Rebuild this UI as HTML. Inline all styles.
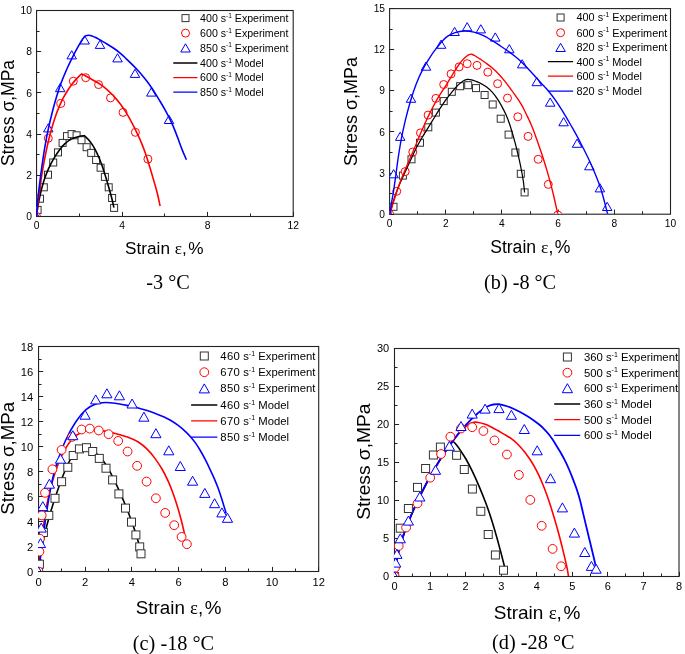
<!DOCTYPE html>
<html><head><meta charset="utf-8"><style>
html,body{margin:0;padding:0;background:#fff;}
svg{display:block;will-change:transform;}
text{font-family:"Liberation Sans", sans-serif;fill:#000;}
</style></head><body>
<svg width="685" height="654" viewBox="0 0 685 654">
<defs><clipPath id="clipa"><rect x="36.55" y="10.5" width="256.65" height="206"/></clipPath><clipPath id="dclipa"><rect x="36" y="11.05" width="256.65" height="204.9"/></clipPath><clipPath id="clipb"><rect x="389.6" y="8.6" width="280.9" height="205.6"/></clipPath><clipPath id="dclipb"><rect x="389.05" y="9.15" width="280.9" height="204.5"/></clipPath><clipPath id="clipc"><rect x="38.55" y="346.5" width="280.15" height="225"/></clipPath><clipPath id="dclipc"><rect x="38" y="347.05" width="280.15" height="223.9"/></clipPath><clipPath id="clipd"><rect x="394.5" y="348.5" width="284.5" height="228"/></clipPath><clipPath id="dclipd"><rect x="393.95" y="349.05" width="284.5" height="226.9"/></clipPath></defs>
<rect width="685" height="654" fill="#fff"/>
<g><line x1="36.5" y1="216.5" x2="36.5" y2="211.9" stroke="#222" stroke-width="1"/><text x="36.55" y="229.4" font-size="10.3" text-anchor="middle">0</text><line x1="122.5" y1="216.5" x2="122.5" y2="211.9" stroke="#222" stroke-width="1"/><text x="122.1" y="229.4" font-size="10.3" text-anchor="middle">4</text><line x1="207.5" y1="216.5" x2="207.5" y2="211.9" stroke="#222" stroke-width="1"/><text x="207.65" y="229.4" font-size="10.3" text-anchor="middle">8</text><line x1="293.5" y1="216.5" x2="293.5" y2="211.9" stroke="#222" stroke-width="1"/><text x="293.2" y="229.4" font-size="10.3" text-anchor="middle">12</text><line x1="79.5" y1="216.5" x2="79.5" y2="213.5" stroke="#222" stroke-width="1"/><line x1="164.5" y1="216.5" x2="164.5" y2="213.5" stroke="#222" stroke-width="1"/><line x1="250.5" y1="216.5" x2="250.5" y2="213.5" stroke="#222" stroke-width="1"/><line x1="36.55" y1="216.5" x2="41.15" y2="216.5" stroke="#222" stroke-width="1"/><text x="31.95" y="220.19" font-size="10.3" text-anchor="end">0</text><line x1="36.55" y1="175.5" x2="41.15" y2="175.5" stroke="#222" stroke-width="1"/><text x="31.95" y="178.99" font-size="10.3" text-anchor="end">2</text><line x1="36.55" y1="134.5" x2="41.15" y2="134.5" stroke="#222" stroke-width="1"/><text x="31.95" y="137.79" font-size="10.3" text-anchor="end">4</text><line x1="36.55" y1="92.5" x2="41.15" y2="92.5" stroke="#222" stroke-width="1"/><text x="31.95" y="96.59" font-size="10.3" text-anchor="end">6</text><line x1="36.55" y1="51.5" x2="41.15" y2="51.5" stroke="#222" stroke-width="1"/><text x="31.95" y="55.39" font-size="10.3" text-anchor="end">8</text><line x1="36.55" y1="10.5" x2="41.15" y2="10.5" stroke="#222" stroke-width="1"/><text x="31.95" y="14.19" font-size="10.3" text-anchor="end">10</text><line x1="36.55" y1="195.5" x2="39.55" y2="195.5" stroke="#222" stroke-width="1"/><line x1="36.55" y1="154.5" x2="39.55" y2="154.5" stroke="#222" stroke-width="1"/><line x1="36.55" y1="113.5" x2="39.55" y2="113.5" stroke="#222" stroke-width="1"/><line x1="36.55" y1="72.5" x2="39.55" y2="72.5" stroke="#222" stroke-width="1"/><line x1="36.55" y1="31.5" x2="39.55" y2="31.5" stroke="#222" stroke-width="1"/><g clip-path="url(#clipa)"><rect x="182" y="14.6" width="7" height="7" fill="#fff" stroke="#333" stroke-width="1"/><text x="200.1" y="21.89" font-size="10.6"><tspan letter-spacing="0">400</tspan> s<tspan font-size="6.57" dy="-4.24">-1</tspan><tspan dy="4.24"> Experiment</tspan></text><circle cx="185.5" cy="33.1" r="4" fill="#fff" stroke="#ff0000" stroke-width="1"/><text x="200.1" y="36.89" font-size="10.6"><tspan letter-spacing="0">600</tspan> s<tspan font-size="6.57" dy="-4.24">-1</tspan><tspan dy="4.24"> Experiment</tspan></text><path d="M185.5,43.8 L190.25,52 L180.75,52 Z" fill="#fff" stroke="#0000ff" stroke-width="1" stroke-linejoin="miter"/><text x="200.1" y="51.69" font-size="10.6"><tspan letter-spacing="0">850</tspan> s<tspan font-size="6.57" dy="-4.24">-1</tspan><tspan dy="4.24"> Experiment</tspan></text><line x1="173.3" y1="63" x2="197.4" y2="63" stroke="#000" stroke-width="1.3"/><text x="200.1" y="66.79" font-size="10.6"><tspan letter-spacing="0">400</tspan> s<tspan font-size="6.57" dy="-4.24">-1</tspan><tspan dy="4.24"> Model</tspan></text><line x1="173.3" y1="77.6" x2="197.4" y2="77.6" stroke="#ff0000" stroke-width="1.3"/><text x="200.1" y="81.39" font-size="10.6"><tspan letter-spacing="0">600</tspan> s<tspan font-size="6.57" dy="-4.24">-1</tspan><tspan dy="4.24"> Model</tspan></text><line x1="173.3" y1="92.2" x2="197.4" y2="92.2" stroke="#0000ff" stroke-width="1.3"/><text x="200.1" y="95.99" font-size="10.6"><tspan letter-spacing="0">850</tspan> s<tspan font-size="6.57" dy="-4.24">-1</tspan><tspan dy="4.24"> Model</tspan></text></g><rect x="36.55" y="10.5" width="256.65" height="206" fill="none" stroke="#222" stroke-width="1.1"/><g clip-path="url(#dclipa)"><rect x="34.1" y="206.4" width="7" height="7" fill="#fff" stroke="#333" stroke-width="1"/><rect x="36.5" y="195.2" width="7" height="7" fill="#fff" stroke="#333" stroke-width="1"/><rect x="40.3" y="183.8" width="7" height="7" fill="#fff" stroke="#333" stroke-width="1"/><rect x="44.5" y="171.2" width="7" height="7" fill="#fff" stroke="#333" stroke-width="1"/><rect x="49.7" y="159" width="7" height="7" fill="#fff" stroke="#333" stroke-width="1"/><rect x="54.5" y="148.9" width="7" height="7" fill="#fff" stroke="#333" stroke-width="1"/><rect x="59.1" y="139.4" width="7" height="7" fill="#fff" stroke="#333" stroke-width="1"/><rect x="63.5" y="132.6" width="7" height="7" fill="#fff" stroke="#333" stroke-width="1"/><rect x="68.1" y="130.6" width="7" height="7" fill="#fff" stroke="#333" stroke-width="1"/><rect x="73.1" y="131.8" width="7" height="7" fill="#fff" stroke="#333" stroke-width="1"/><rect x="78" y="136.7" width="7" height="7" fill="#fff" stroke="#333" stroke-width="1"/><rect x="83.1" y="143.7" width="7" height="7" fill="#fff" stroke="#333" stroke-width="1"/><rect x="87.7" y="149.4" width="7" height="7" fill="#fff" stroke="#333" stroke-width="1"/><rect x="92.6" y="156.5" width="7" height="7" fill="#fff" stroke="#333" stroke-width="1"/><rect x="97.1" y="164.2" width="7" height="7" fill="#fff" stroke="#333" stroke-width="1"/><rect x="101.4" y="173.4" width="7" height="7" fill="#fff" stroke="#333" stroke-width="1"/><rect x="105.2" y="183.8" width="7" height="7" fill="#fff" stroke="#333" stroke-width="1"/><rect x="108.6" y="194.5" width="7" height="7" fill="#fff" stroke="#333" stroke-width="1"/><rect x="110.6" y="204.4" width="7" height="7" fill="#fff" stroke="#333" stroke-width="1"/><circle cx="36.5" cy="216.5" r="4" fill="#fff" stroke="#ff0000" stroke-width="1"/><circle cx="48.3" cy="138.3" r="4" fill="#fff" stroke="#ff0000" stroke-width="1"/><circle cx="60.8" cy="103.5" r="4" fill="#fff" stroke="#ff0000" stroke-width="1"/><circle cx="73.3" cy="81.2" r="4" fill="#fff" stroke="#ff0000" stroke-width="1"/><circle cx="85.7" cy="77.7" r="4" fill="#fff" stroke="#ff0000" stroke-width="1"/><circle cx="98.6" cy="84.6" r="4" fill="#fff" stroke="#ff0000" stroke-width="1"/><circle cx="110.5" cy="97.9" r="4" fill="#fff" stroke="#ff0000" stroke-width="1"/><circle cx="123" cy="112.4" r="4" fill="#fff" stroke="#ff0000" stroke-width="1"/><circle cx="135.4" cy="132.3" r="4" fill="#fff" stroke="#ff0000" stroke-width="1"/><circle cx="147.9" cy="159.1" r="4" fill="#fff" stroke="#ff0000" stroke-width="1"/><path d="M36.5,212.4 L41.25,220.6 L31.75,220.6 Z" fill="#fff" stroke="#0000ff" stroke-width="1" stroke-linejoin="miter"/><path d="M48.3,123.7 L53.05,131.9 L43.55,131.9 Z" fill="#fff" stroke="#0000ff" stroke-width="1" stroke-linejoin="miter"/><path d="M60.2,83.5 L64.95,91.7 L55.45,91.7 Z" fill="#fff" stroke="#0000ff" stroke-width="1" stroke-linejoin="miter"/><path d="M71.7,50.7 L76.45,58.9 L66.95,58.9 Z" fill="#fff" stroke="#0000ff" stroke-width="1" stroke-linejoin="miter"/><path d="M84.7,35.8 L89.45,44 L79.95,44 Z" fill="#fff" stroke="#0000ff" stroke-width="1" stroke-linejoin="miter"/><path d="M100,40.2 L104.75,48.4 L95.25,48.4 Z" fill="#fff" stroke="#0000ff" stroke-width="1" stroke-linejoin="miter"/><path d="M117.5,53.7 L122.25,61.9 L112.75,61.9 Z" fill="#fff" stroke="#0000ff" stroke-width="1" stroke-linejoin="miter"/><path d="M135,69.2 L139.75,77.4 L130.25,77.4 Z" fill="#fff" stroke="#0000ff" stroke-width="1" stroke-linejoin="miter"/><path d="M151.3,87.9 L156.05,96.1 L146.55,96.1 Z" fill="#fff" stroke="#0000ff" stroke-width="1" stroke-linejoin="miter"/><path d="M169,115.3 L173.75,123.5 L164.25,123.5 Z" fill="#fff" stroke="#0000ff" stroke-width="1" stroke-linejoin="miter"/><path d="M36.5,216.5 C36.73,214.82 37.31,209.94 37.9,206.4 C38.49,202.86 39.23,198.97 40.06,195.28 C40.88,191.58 41.79,187.81 42.85,184.22 C43.91,180.64 45.08,177.15 46.42,173.77 C47.75,170.4 49.31,167.04 50.86,163.98 C52.42,160.93 54.16,157.99 55.75,155.44 C57.34,152.89 58.92,150.63 60.41,148.7 C61.91,146.77 63.28,145.26 64.73,143.87 C66.19,142.49 67.6,141.37 69.13,140.39 C70.66,139.41 72.26,138.64 73.92,137.99 C75.58,137.34 77.34,136.88 79.1,136.5 C80.86,136.12 83.6,135.83 84.5,135.7 C85.25,136.47 87.6,138.63 89,140.3 C90.4,141.97 91.69,143.8 92.89,145.69 C94.1,147.58 95.18,149.57 96.22,151.63 C97.26,153.69 98.19,155.81 99.12,158.05 C100.06,160.28 100.96,162.59 101.84,165.04 C102.72,167.48 103.56,170.06 104.41,172.72 C105.26,175.38 106.09,178.15 106.93,180.98 C107.78,183.81 108.63,186.76 109.46,189.71 C110.29,192.66 111.16,195.7 111.9,198.7 C112.64,201.7 113.57,206.2 113.9,207.7" fill="none" stroke="#000" stroke-width="1.6" stroke-linejoin="miter" stroke-linecap="butt"/><path d="M36.5,216.5 C36.73,214.45 37.38,208.63 37.9,204.2 C38.42,199.77 39,194.78 39.65,189.92 C40.3,185.05 41,180.05 41.8,175.02 C42.61,169.98 43.5,164.83 44.48,159.69 C45.46,154.55 46.51,149.3 47.68,144.2 C48.84,139.1 50.19,133.76 51.5,129.09 C52.8,124.41 54.19,120.04 55.52,116.17 C56.86,112.3 58.21,108.9 59.5,105.87 C60.79,102.83 61.99,100.38 63.27,97.94 C64.55,95.49 65.82,93.35 67.18,91.2 C68.54,89.04 69.96,86.98 71.43,85.01 C72.89,83.05 74.54,81.02 75.96,79.4 C77.37,77.78 78.93,76.22 79.9,75.3 C80.87,74.38 81.48,74.13 81.8,73.9 C83.07,74.58 87.08,76.74 89.4,78 C91.72,79.26 93.8,80.37 95.7,81.47 C97.59,82.57 99.1,83.45 100.75,84.6 C102.4,85.74 103.94,86.94 105.59,88.35 C107.25,89.75 109,91.38 110.69,93.05 C112.38,94.72 114.11,96.53 115.72,98.36 C117.32,100.19 118.82,102.06 120.3,104.03 C121.77,106 123.21,108.06 124.58,110.17 C125.96,112.28 127.26,114.48 128.52,116.68 C129.79,118.88 131.01,121.14 132.18,123.36 C133.35,125.58 134.47,127.78 135.56,129.98 C136.65,132.19 137.67,134.24 138.74,136.59 C139.8,138.95 140.86,141.37 141.95,144.11 C143.05,146.86 144.21,149.92 145.31,153.05 C146.41,156.18 147.49,159.56 148.54,162.91 C149.59,166.26 150.59,169.65 151.62,173.15 C152.65,176.64 153.7,180.22 154.71,183.86 C155.72,187.5 156.8,191.31 157.7,195 C158.6,198.69 159.7,204.17 160.1,206" fill="none" stroke="#ff0000" stroke-width="1.6" stroke-linejoin="miter" stroke-linecap="butt"/><path d="M36.5,216.5 C36.63,214.45 36.91,208.63 37.3,204.2 C37.69,199.77 38.28,194.79 38.86,189.92 C39.43,185.05 40.07,180.01 40.73,174.98 C41.4,169.96 42.08,164.84 42.84,159.76 C43.59,154.69 44.36,149.7 45.27,144.55 C46.18,139.4 47.22,133.99 48.32,128.85 C49.42,123.71 50.69,118.45 51.89,113.7 C53.08,108.94 54.39,104.18 55.5,100.31 C56.6,96.44 57.57,93.39 58.51,90.48 C59.46,87.56 60.25,85.31 61.18,82.83 C62.11,80.34 63.05,78.07 64.09,75.56 C65.14,73.04 66.32,70.25 67.44,67.74 C68.56,65.24 69.72,62.78 70.81,60.53 C71.9,58.29 72.93,56.25 73.96,54.27 C74.98,52.29 75.97,50.48 76.98,48.65 C77.98,46.82 78.98,45.01 80,43.3 C81.02,41.59 82.58,39.22 83.1,38.4 C83.5,37.98 84.57,36.42 85.5,35.9 C86.43,35.38 87.61,35.27 88.7,35.27 C89.78,35.27 90.87,35.51 92.03,35.89 C93.19,36.26 94.24,36.79 95.65,37.52 C97.07,38.25 98.58,39.14 100.52,40.25 C102.47,41.37 105,42.78 107.33,44.2 C109.66,45.62 112.26,47.19 114.49,48.76 C116.72,50.32 118.76,51.94 120.69,53.57 C122.62,55.2 124.26,56.85 126.07,58.56 C127.87,60.27 129.69,62.02 131.53,63.84 C133.36,65.67 135.26,67.57 137.06,69.51 C138.85,71.45 140.64,73.48 142.32,75.49 C144.01,77.5 145.58,79.5 147.15,81.58 C148.72,83.66 150.24,85.73 151.76,87.98 C153.29,90.22 154.81,92.64 156.32,95.05 C157.82,97.47 159.33,100.02 160.79,102.49 C162.25,104.97 163.65,107.36 165.07,109.91 C166.5,112.46 167.9,114.92 169.31,117.8 C170.73,120.67 172.14,123.76 173.56,127.14 C174.98,130.52 176.41,134.35 177.83,138.09 C179.25,141.84 180.67,145.98 182.1,149.6 C183.53,153.22 185.68,158.1 186.4,159.8" fill="none" stroke="#0000ff" stroke-width="1.6" stroke-linejoin="miter" stroke-linecap="butt"/></g><text transform="translate(13.9,113) rotate(-90)" font-size="17.5" text-anchor="middle">Stress &#963;,MPa</text><text x="164.3" y="253.9" font-size="17.2" text-anchor="middle">Strain <tspan style="font-family:'Liberation Serif', serif">&#949;</tspan>,<tspan dx="1.5">%</tspan></text><text x="168" y="289.4" font-size="20.2" text-anchor="middle" style="font-family:'Liberation Serif', serif">-3 &#176;C</text></g>
<g><line x1="389.5" y1="214.2" x2="389.5" y2="209.6" stroke="#222" stroke-width="1"/><text x="389.6" y="227.2" font-size="10.2" text-anchor="middle">0</text><line x1="445.5" y1="214.2" x2="445.5" y2="209.6" stroke="#222" stroke-width="1"/><text x="445.78" y="227.2" font-size="10.2" text-anchor="middle">2</text><line x1="501.5" y1="214.2" x2="501.5" y2="209.6" stroke="#222" stroke-width="1"/><text x="501.96" y="227.2" font-size="10.2" text-anchor="middle">4</text><line x1="558.5" y1="214.2" x2="558.5" y2="209.6" stroke="#222" stroke-width="1"/><text x="558.14" y="227.2" font-size="10.2" text-anchor="middle">6</text><line x1="614.5" y1="214.2" x2="614.5" y2="209.6" stroke="#222" stroke-width="1"/><text x="614.32" y="227.2" font-size="10.2" text-anchor="middle">8</text><line x1="670.5" y1="214.2" x2="670.5" y2="209.6" stroke="#222" stroke-width="1"/><text x="670.5" y="227.2" font-size="10.2" text-anchor="middle">10</text><line x1="417.5" y1="214.2" x2="417.5" y2="211.2" stroke="#222" stroke-width="1"/><line x1="473.5" y1="214.2" x2="473.5" y2="211.2" stroke="#222" stroke-width="1"/><line x1="530.5" y1="214.2" x2="530.5" y2="211.2" stroke="#222" stroke-width="1"/><line x1="586.5" y1="214.2" x2="586.5" y2="211.2" stroke="#222" stroke-width="1"/><line x1="642.5" y1="214.2" x2="642.5" y2="211.2" stroke="#222" stroke-width="1"/><line x1="389.6" y1="214.5" x2="394.2" y2="214.5" stroke="#222" stroke-width="1"/><text x="385" y="217.85" font-size="10.2" text-anchor="end">0</text><line x1="389.6" y1="173.5" x2="394.2" y2="173.5" stroke="#222" stroke-width="1"/><text x="385" y="176.73" font-size="10.2" text-anchor="end">3</text><line x1="389.6" y1="131.5" x2="394.2" y2="131.5" stroke="#222" stroke-width="1"/><text x="385" y="135.61" font-size="10.2" text-anchor="end">6</text><line x1="389.6" y1="90.5" x2="394.2" y2="90.5" stroke="#222" stroke-width="1"/><text x="385" y="94.49" font-size="10.2" text-anchor="end">9</text><line x1="389.6" y1="49.5" x2="394.2" y2="49.5" stroke="#222" stroke-width="1"/><text x="385" y="53.37" font-size="10.2" text-anchor="end">12</text><line x1="389.6" y1="8.5" x2="394.2" y2="8.5" stroke="#222" stroke-width="1"/><text x="385" y="12.25" font-size="10.2" text-anchor="end">15</text><line x1="389.6" y1="193.5" x2="392.6" y2="193.5" stroke="#222" stroke-width="1"/><line x1="389.6" y1="152.5" x2="392.6" y2="152.5" stroke="#222" stroke-width="1"/><line x1="389.6" y1="111.5" x2="392.6" y2="111.5" stroke="#222" stroke-width="1"/><line x1="389.6" y1="70.5" x2="392.6" y2="70.5" stroke="#222" stroke-width="1"/><line x1="389.6" y1="29.5" x2="392.6" y2="29.5" stroke="#222" stroke-width="1"/><g clip-path="url(#clipb)"><rect x="557.1" y="14" width="7" height="7" fill="#fff" stroke="#333" stroke-width="1"/><text x="576.5" y="21.4" font-size="10.9"><tspan letter-spacing="0">400</tspan> s<tspan font-size="6.76" dy="-4.36">-1</tspan><tspan dy="4.36"> Experiment</tspan></text><circle cx="560.6" cy="32.7" r="4" fill="#fff" stroke="#ff0000" stroke-width="1"/><text x="576.5" y="36.6" font-size="10.9"><tspan letter-spacing="0">600</tspan> s<tspan font-size="6.76" dy="-4.36">-1</tspan><tspan dy="4.36"> Experiment</tspan></text><path d="M560.6,43.3 L565.35,51.5 L555.85,51.5 Z" fill="#fff" stroke="#0000ff" stroke-width="1" stroke-linejoin="miter"/><text x="576.5" y="51.3" font-size="10.9"><tspan letter-spacing="0">820</tspan> s<tspan font-size="6.76" dy="-4.36">-1</tspan><tspan dy="4.36"> Experiment</tspan></text><line x1="547.9" y1="61.7" x2="573.1" y2="61.7" stroke="#000" stroke-width="1.3"/><text x="576.5" y="65.6" font-size="10.9"><tspan letter-spacing="0">400</tspan> s<tspan font-size="6.76" dy="-4.36">-1</tspan><tspan dy="4.36"> Model</tspan></text><line x1="547.9" y1="76.2" x2="573.1" y2="76.2" stroke="#ff0000" stroke-width="1.3"/><text x="576.5" y="80.1" font-size="10.9"><tspan letter-spacing="0">600</tspan> s<tspan font-size="6.76" dy="-4.36">-1</tspan><tspan dy="4.36"> Model</tspan></text><line x1="547.9" y1="91.1" x2="573.1" y2="91.1" stroke="#0000ff" stroke-width="1.3"/><text x="576.5" y="95" font-size="10.9"><tspan letter-spacing="0">820</tspan> s<tspan font-size="6.76" dy="-4.36">-1</tspan><tspan dy="4.36"> Model</tspan></text></g><rect x="389.6" y="8.6" width="280.9" height="205.6" fill="none" stroke="#222" stroke-width="1.1"/><g clip-path="url(#dclipb)"><rect x="390" y="203.3" width="7" height="7" fill="#fff" stroke="#333" stroke-width="1"/><rect x="399.4" y="172.1" width="7" height="7" fill="#fff" stroke="#333" stroke-width="1"/><rect x="408" y="155.8" width="7" height="7" fill="#fff" stroke="#333" stroke-width="1"/><rect x="416.5" y="139.2" width="7" height="7" fill="#fff" stroke="#333" stroke-width="1"/><rect x="424.8" y="123.8" width="7" height="7" fill="#fff" stroke="#333" stroke-width="1"/><rect x="432.4" y="109.1" width="7" height="7" fill="#fff" stroke="#333" stroke-width="1"/><rect x="440.2" y="97.6" width="7" height="7" fill="#fff" stroke="#333" stroke-width="1"/><rect x="448.3" y="88.3" width="7" height="7" fill="#fff" stroke="#333" stroke-width="1"/><rect x="456.6" y="82.7" width="7" height="7" fill="#fff" stroke="#333" stroke-width="1"/><rect x="464.7" y="81.7" width="7" height="7" fill="#fff" stroke="#333" stroke-width="1"/><rect x="472.5" y="84.6" width="7" height="7" fill="#fff" stroke="#333" stroke-width="1"/><rect x="481.1" y="91.5" width="7" height="7" fill="#fff" stroke="#333" stroke-width="1"/><rect x="489.2" y="101" width="7" height="7" fill="#fff" stroke="#333" stroke-width="1"/><rect x="497.2" y="115.2" width="7" height="7" fill="#fff" stroke="#333" stroke-width="1"/><rect x="505.1" y="131.1" width="7" height="7" fill="#fff" stroke="#333" stroke-width="1"/><rect x="511.9" y="149" width="7" height="7" fill="#fff" stroke="#333" stroke-width="1"/><rect x="517.3" y="170.3" width="7" height="7" fill="#fff" stroke="#333" stroke-width="1"/><rect x="521.1" y="188.9" width="7" height="7" fill="#fff" stroke="#333" stroke-width="1"/><circle cx="389.7" cy="214.3" r="4" fill="#fff" stroke="#ff0000" stroke-width="1"/><circle cx="396.7" cy="191.3" r="4" fill="#fff" stroke="#ff0000" stroke-width="1"/><circle cx="405.2" cy="171.6" r="4" fill="#fff" stroke="#ff0000" stroke-width="1"/><circle cx="412.8" cy="152" r="4" fill="#fff" stroke="#ff0000" stroke-width="1"/><circle cx="420.5" cy="132.9" r="4" fill="#fff" stroke="#ff0000" stroke-width="1"/><circle cx="428.1" cy="115.1" r="4" fill="#fff" stroke="#ff0000" stroke-width="1"/><circle cx="435.9" cy="98.4" r="4" fill="#fff" stroke="#ff0000" stroke-width="1"/><circle cx="443.7" cy="84.5" r="4" fill="#fff" stroke="#ff0000" stroke-width="1"/><circle cx="451.1" cy="73.9" r="4" fill="#fff" stroke="#ff0000" stroke-width="1"/><circle cx="459.1" cy="66.9" r="4" fill="#fff" stroke="#ff0000" stroke-width="1"/><circle cx="467.2" cy="63.7" r="4" fill="#fff" stroke="#ff0000" stroke-width="1"/><circle cx="477" cy="65.4" r="4" fill="#fff" stroke="#ff0000" stroke-width="1"/><circle cx="487.8" cy="72.2" r="4" fill="#fff" stroke="#ff0000" stroke-width="1"/><circle cx="497.6" cy="83.7" r="4" fill="#fff" stroke="#ff0000" stroke-width="1"/><circle cx="507.5" cy="98.1" r="4" fill="#fff" stroke="#ff0000" stroke-width="1"/><circle cx="517.8" cy="116.8" r="4" fill="#fff" stroke="#ff0000" stroke-width="1"/><circle cx="528.1" cy="136.4" r="4" fill="#fff" stroke="#ff0000" stroke-width="1"/><circle cx="538.2" cy="159.3" r="4" fill="#fff" stroke="#ff0000" stroke-width="1"/><circle cx="548.3" cy="184.4" r="4" fill="#fff" stroke="#ff0000" stroke-width="1"/><circle cx="557.8" cy="215" r="4" fill="#fff" stroke="#ff0000" stroke-width="1"/><path d="M389.7,210.2 L394.45,218.4 L384.95,218.4 Z" fill="#fff" stroke="#0000ff" stroke-width="1" stroke-linejoin="miter"/><path d="M393.6,169.6 L398.35,177.8 L388.85,177.8 Z" fill="#fff" stroke="#0000ff" stroke-width="1" stroke-linejoin="miter"/><path d="M400.2,132.2 L404.95,140.4 L395.45,140.4 Z" fill="#fff" stroke="#0000ff" stroke-width="1" stroke-linejoin="miter"/><path d="M411,94.1 L415.75,102.3 L406.25,102.3 Z" fill="#fff" stroke="#0000ff" stroke-width="1" stroke-linejoin="miter"/><path d="M426,62 L430.75,70.2 L421.25,70.2 Z" fill="#fff" stroke="#0000ff" stroke-width="1" stroke-linejoin="miter"/><path d="M441.1,40.1 L445.85,48.3 L436.35,48.3 Z" fill="#fff" stroke="#0000ff" stroke-width="1" stroke-linejoin="miter"/><path d="M454.6,27.3 L459.35,35.5 L449.85,35.5 Z" fill="#fff" stroke="#0000ff" stroke-width="1" stroke-linejoin="miter"/><path d="M467.2,22.6 L471.95,30.8 L462.45,30.8 Z" fill="#fff" stroke="#0000ff" stroke-width="1" stroke-linejoin="miter"/><path d="M480.8,24.7 L485.55,32.9 L476.05,32.9 Z" fill="#fff" stroke="#0000ff" stroke-width="1" stroke-linejoin="miter"/><path d="M495.3,32.9 L500.05,41.1 L490.55,41.1 Z" fill="#fff" stroke="#0000ff" stroke-width="1" stroke-linejoin="miter"/><path d="M509.3,44.6 L514.05,52.8 L504.55,52.8 Z" fill="#fff" stroke="#0000ff" stroke-width="1" stroke-linejoin="miter"/><path d="M522.2,59.7 L526.95,67.9 L517.45,67.9 Z" fill="#fff" stroke="#0000ff" stroke-width="1" stroke-linejoin="miter"/><path d="M536.8,77.5 L541.55,85.7 L532.05,85.7 Z" fill="#fff" stroke="#0000ff" stroke-width="1" stroke-linejoin="miter"/><path d="M550.2,98 L554.95,106.2 L545.45,106.2 Z" fill="#fff" stroke="#0000ff" stroke-width="1" stroke-linejoin="miter"/><path d="M563.6,117.6 L568.35,125.8 L558.85,125.8 Z" fill="#fff" stroke="#0000ff" stroke-width="1" stroke-linejoin="miter"/><path d="M577.1,139.1 L581.85,147.3 L572.35,147.3 Z" fill="#fff" stroke="#0000ff" stroke-width="1" stroke-linejoin="miter"/><path d="M589.3,161.6 L594.05,169.8 L584.55,169.8 Z" fill="#fff" stroke="#0000ff" stroke-width="1" stroke-linejoin="miter"/><path d="M599.9,183.7 L604.65,191.9 L595.15,191.9 Z" fill="#fff" stroke="#0000ff" stroke-width="1" stroke-linejoin="miter"/><path d="M607.2,202.3 L611.95,210.5 L602.45,210.5 Z" fill="#fff" stroke="#0000ff" stroke-width="1" stroke-linejoin="miter"/><path d="M389.8,214.3 C390.25,212.58 391.48,207.47 392.5,204 C393.52,200.53 394.57,197.13 395.91,193.48 C397.25,189.83 398.83,186.04 400.52,182.11 C402.2,178.17 404.17,173.95 406.03,169.88 C407.89,165.8 409.9,161.46 411.69,157.66 C413.49,153.86 415.18,150.23 416.79,147.07 C418.41,143.92 419.81,141.43 421.38,138.72 C422.95,136.01 424.44,133.74 426.23,130.82 C428.03,127.9 430.06,124.6 432.15,121.2 C434.24,117.81 436.53,113.95 438.78,110.45 C441.02,106.95 443.38,103.35 445.62,100.2 C447.86,97.05 450.12,94.09 452.23,91.54 C454.34,88.99 456.44,86.68 458.26,84.92 C460.09,83.15 461.65,81.84 463.18,80.93 C464.72,80.02 466.11,79.65 467.5,79.47 C468.89,79.29 470.15,79.54 471.53,79.84 C472.9,80.13 474.25,80.64 475.75,81.22 C477.26,81.8 478.78,82.37 480.54,83.3 C482.3,84.23 484.37,85.32 486.32,86.8 C488.27,88.28 490.36,90.14 492.23,92.19 C494.1,94.25 495.9,96.75 497.52,99.15 C499.14,101.55 500.56,104.04 501.94,106.58 C503.32,109.11 504.6,111.66 505.8,114.37 C507,117.07 508.09,119.85 509.14,122.81 C510.19,125.77 511.17,129.02 512.1,132.12 C513.03,135.21 513.89,138.35 514.71,141.37 C515.53,144.39 516.28,147.25 517.03,150.26 C517.77,153.27 518.46,156.18 519.18,159.43 C519.9,162.68 520.65,166.15 521.34,169.75 C522.03,173.34 522.76,177.21 523.3,181 C523.84,184.79 524.38,190.58 524.6,192.5" fill="none" stroke="#000" stroke-width="1.25" stroke-linejoin="miter" stroke-linecap="butt"/><path d="M389.8,214.3 C390.78,211.08 394,200.3 395.7,195 C397.4,189.7 398.43,186.64 399.97,182.53 C401.51,178.42 403.18,174.55 404.94,170.35 C406.71,166.14 408.77,161.44 410.55,157.29 C412.33,153.13 414.06,149.09 415.61,145.41 C417.16,141.74 418.44,138.61 419.86,135.25 C421.28,131.9 422.59,128.76 424.15,125.28 C425.7,121.79 427.42,117.97 429.19,114.35 C430.96,110.74 432.98,106.85 434.77,103.58 C436.57,100.31 438.41,97.25 439.95,94.73 C441.5,92.21 442.77,90.43 444.04,88.45 C445.31,86.47 446.4,84.76 447.59,82.84 C448.77,80.93 449.93,78.95 451.14,76.95 C452.35,74.95 453.61,72.78 454.83,70.83 C456.06,68.88 457.26,66.99 458.49,65.25 C459.72,63.51 460.98,61.83 462.22,60.41 C463.46,59 464.78,57.73 465.93,56.76 C467.09,55.78 468.15,55.01 469.13,54.59 C470.11,54.16 470.81,54.01 471.79,54.2 C472.77,54.39 473.64,54.94 474.99,55.73 C476.34,56.52 478.04,57.68 479.92,58.93 C481.79,60.19 484.09,61.69 486.25,63.27 C488.41,64.86 490.74,66.57 492.88,68.43 C495.02,70.29 497.1,72.33 499.08,74.46 C501.06,76.58 502.92,78.88 504.75,81.16 C506.57,83.44 508.35,85.89 510.02,88.13 C511.69,90.38 513.3,92.58 514.76,94.64 C516.22,96.69 517.58,98.62 518.79,100.46 C519.99,102.31 521.01,103.99 521.99,105.71 C522.96,107.43 523.81,109.11 524.65,110.78 C525.5,112.46 526.29,114.15 527.06,115.76 C527.83,117.37 528.55,118.87 529.28,120.45 C530.01,122.03 530.66,123.43 531.42,125.25 C532.18,127.06 532.91,128.91 533.82,131.32 C534.72,133.73 535.77,136.66 536.86,139.72 C537.94,142.78 539.16,146.26 540.32,149.68 C541.47,153.1 542.68,156.69 543.8,160.22 C544.93,163.76 545.99,167.24 547.06,170.89 C548.13,174.54 549.13,178.02 550.22,182.12 C551.31,186.22 552.34,190.14 553.6,195.5 C554.86,200.86 557.1,211.17 557.8,214.3" fill="none" stroke="#ff0000" stroke-width="1.4" stroke-linejoin="miter" stroke-linecap="butt"/><path d="M389.8,214.3 C390.08,212.42 390.88,206.82 391.5,203 C392.12,199.18 392.82,195.89 393.53,191.38 C394.23,186.88 394.93,181.64 395.72,175.98 C396.51,170.32 397.32,163.64 398.26,157.42 C399.2,151.19 400.17,144.92 401.38,138.63 C402.59,132.34 404,125.93 405.51,119.69 C407.02,113.45 408.66,107.14 410.44,101.2 C412.22,95.26 414.13,89.39 416.21,84.05 C418.28,78.71 420.54,73.71 422.89,69.16 C425.23,64.61 427.92,60.39 430.28,56.77 C432.64,53.16 435.02,50.09 437.04,47.47 C439.06,44.85 440.61,42.93 442.4,41.05 C444.18,39.16 445.64,37.56 447.75,36.15 C449.85,34.74 452.28,33.43 455.04,32.58 C457.8,31.72 461.19,31.11 464.33,31.02 C467.47,30.94 470.79,31.34 473.88,32.07 C476.98,32.79 479.92,34 482.92,35.39 C485.92,36.79 488.9,38.63 491.89,40.44 C494.87,42.24 498.02,44.36 500.83,46.22 C503.63,48.09 506.31,49.91 508.71,51.63 C511.11,53.35 513.15,54.86 515.23,56.54 C517.3,58.22 519.17,59.83 521.16,61.7 C523.15,63.56 525.12,65.58 527.16,67.72 C529.2,69.87 531.34,72.3 533.39,74.56 C535.45,76.82 537.52,79.16 539.48,81.29 C541.44,83.43 543.36,85.39 545.15,87.37 C546.94,89.36 548.54,91.13 550.22,93.22 C551.89,95.3 553.58,97.57 555.21,99.88 C556.85,102.18 558.44,104.61 560.02,107.06 C561.6,109.5 562.94,111.62 564.68,114.53 C566.43,117.43 568.08,120.25 570.49,124.51 C572.89,128.78 575.88,133.91 579.12,140.12 C582.36,146.34 586.39,153.94 589.92,161.8 C593.45,169.67 597.34,178.55 600.3,187.3 C603.26,196.05 606.47,209.8 607.7,214.3" fill="none" stroke="#0000ff" stroke-width="1.4" stroke-linejoin="miter" stroke-linecap="butt"/></g><text transform="translate(356.7,111.5) rotate(-90)" font-size="18" text-anchor="middle">Stress &#963;,MPa</text><text x="530.3" y="253.4" font-size="17.6" text-anchor="middle">Strain <tspan style="font-family:'Liberation Serif', serif">&#949;</tspan>,<tspan dx="1.5">%</tspan></text><text x="520.1" y="288.9" font-size="20.2" text-anchor="middle" style="font-family:'Liberation Serif', serif">(b) -8 &#176;C</text></g>
<g><line x1="38.5" y1="571.5" x2="38.5" y2="566.9" stroke="#222" stroke-width="1"/><text x="38.55" y="586.1" font-size="11.2" text-anchor="middle">0</text><line x1="85.5" y1="571.5" x2="85.5" y2="566.9" stroke="#222" stroke-width="1"/><text x="85.24" y="586.1" font-size="11.2" text-anchor="middle">2</text><line x1="131.5" y1="571.5" x2="131.5" y2="566.9" stroke="#222" stroke-width="1"/><text x="131.93" y="586.1" font-size="11.2" text-anchor="middle">4</text><line x1="178.5" y1="571.5" x2="178.5" y2="566.9" stroke="#222" stroke-width="1"/><text x="178.62" y="586.1" font-size="11.2" text-anchor="middle">6</text><line x1="225.5" y1="571.5" x2="225.5" y2="566.9" stroke="#222" stroke-width="1"/><text x="225.32" y="586.1" font-size="11.2" text-anchor="middle">8</text><line x1="272.5" y1="571.5" x2="272.5" y2="566.9" stroke="#222" stroke-width="1"/><text x="272.01" y="586.1" font-size="11.2" text-anchor="middle">10</text><line x1="318.5" y1="571.5" x2="318.5" y2="566.9" stroke="#222" stroke-width="1"/><text x="318.7" y="586.1" font-size="11.2" text-anchor="middle">12</text><line x1="61.5" y1="571.5" x2="61.5" y2="568.5" stroke="#222" stroke-width="1"/><line x1="108.5" y1="571.5" x2="108.5" y2="568.5" stroke="#222" stroke-width="1"/><line x1="155.5" y1="571.5" x2="155.5" y2="568.5" stroke="#222" stroke-width="1"/><line x1="201.5" y1="571.5" x2="201.5" y2="568.5" stroke="#222" stroke-width="1"/><line x1="248.5" y1="571.5" x2="248.5" y2="568.5" stroke="#222" stroke-width="1"/><line x1="295.5" y1="571.5" x2="295.5" y2="568.5" stroke="#222" stroke-width="1"/><line x1="38.55" y1="571.5" x2="43.15" y2="571.5" stroke="#222" stroke-width="1"/><text x="33.25" y="575.51" font-size="11.2" text-anchor="end">0</text><line x1="38.55" y1="546.5" x2="43.15" y2="546.5" stroke="#222" stroke-width="1"/><text x="33.25" y="550.51" font-size="11.2" text-anchor="end">2</text><line x1="38.55" y1="521.5" x2="43.15" y2="521.5" stroke="#222" stroke-width="1"/><text x="33.25" y="525.51" font-size="11.2" text-anchor="end">4</text><line x1="38.55" y1="496.5" x2="43.15" y2="496.5" stroke="#222" stroke-width="1"/><text x="33.25" y="500.51" font-size="11.2" text-anchor="end">6</text><line x1="38.55" y1="471.5" x2="43.15" y2="471.5" stroke="#222" stroke-width="1"/><text x="33.25" y="475.51" font-size="11.2" text-anchor="end">8</text><line x1="38.55" y1="446.5" x2="43.15" y2="446.5" stroke="#222" stroke-width="1"/><text x="33.25" y="450.51" font-size="11.2" text-anchor="end">10</text><line x1="38.55" y1="421.5" x2="43.15" y2="421.5" stroke="#222" stroke-width="1"/><text x="33.25" y="425.51" font-size="11.2" text-anchor="end">12</text><line x1="38.55" y1="396.5" x2="43.15" y2="396.5" stroke="#222" stroke-width="1"/><text x="33.25" y="400.51" font-size="11.2" text-anchor="end">14</text><line x1="38.55" y1="371.5" x2="43.15" y2="371.5" stroke="#222" stroke-width="1"/><text x="33.25" y="375.51" font-size="11.2" text-anchor="end">16</text><line x1="38.55" y1="346.5" x2="43.15" y2="346.5" stroke="#222" stroke-width="1"/><text x="33.25" y="350.51" font-size="11.2" text-anchor="end">18</text><line x1="38.55" y1="559.5" x2="41.55" y2="559.5" stroke="#222" stroke-width="1"/><line x1="38.55" y1="534.5" x2="41.55" y2="534.5" stroke="#222" stroke-width="1"/><line x1="38.55" y1="509.5" x2="41.55" y2="509.5" stroke="#222" stroke-width="1"/><line x1="38.55" y1="484.5" x2="41.55" y2="484.5" stroke="#222" stroke-width="1"/><line x1="38.55" y1="459.5" x2="41.55" y2="459.5" stroke="#222" stroke-width="1"/><line x1="38.55" y1="434.5" x2="41.55" y2="434.5" stroke="#222" stroke-width="1"/><line x1="38.55" y1="409.5" x2="41.55" y2="409.5" stroke="#222" stroke-width="1"/><line x1="38.55" y1="384.5" x2="41.55" y2="384.5" stroke="#222" stroke-width="1"/><line x1="38.55" y1="359.5" x2="41.55" y2="359.5" stroke="#222" stroke-width="1"/><g clip-path="url(#clipc)"><rect x="200.3" y="352" width="8" height="8" fill="#fff" stroke="#333" stroke-width="1"/><text x="220.3" y="360.05" font-size="11.3"><tspan letter-spacing="0.3">460</tspan> s<tspan font-size="7.01" dy="-4.52">-1</tspan><tspan dy="4.52"> Experiment</tspan></text><circle cx="204.3" cy="372.2" r="4.4" fill="#fff" stroke="#ff0000" stroke-width="1"/><text x="220.3" y="376.25" font-size="11.3"><tspan letter-spacing="0.3">670</tspan> s<tspan font-size="7.01" dy="-4.52">-1</tspan><tspan dy="4.52"> Experiment</tspan></text><path d="M204.3,383.9 L209.4,392.9 L199.2,392.9 Z" fill="#fff" stroke="#0000ff" stroke-width="1" stroke-linejoin="miter"/><text x="220.3" y="392.45" font-size="11.3"><tspan letter-spacing="0.3">850</tspan> s<tspan font-size="7.01" dy="-4.52">-1</tspan><tspan dy="4.52"> Experiment</tspan></text><line x1="191.1" y1="405" x2="217.3" y2="405" stroke="#000" stroke-width="1.3"/><text x="220.3" y="409.05" font-size="11.3"><tspan letter-spacing="0.3">460</tspan> s<tspan font-size="7.01" dy="-4.52">-1</tspan><tspan dy="4.52"> Model</tspan></text><line x1="191.1" y1="420.9" x2="217.3" y2="420.9" stroke="#ff0000" stroke-width="1.3"/><text x="220.3" y="424.95" font-size="11.3"><tspan letter-spacing="0.3">670</tspan> s<tspan font-size="7.01" dy="-4.52">-1</tspan><tspan dy="4.52"> Model</tspan></text><line x1="191.1" y1="437.1" x2="217.3" y2="437.1" stroke="#0000ff" stroke-width="1.3"/><text x="220.3" y="441.15" font-size="11.3"><tspan letter-spacing="0.3">850</tspan> s<tspan font-size="7.01" dy="-4.52">-1</tspan><tspan dy="4.52"> Model</tspan></text></g><rect x="38.55" y="346.5" width="280.15" height="225" fill="none" stroke="#222" stroke-width="1.1"/><g clip-path="url(#dclipc)"><path d="M38.3,571.5 C38.67,568.75 39.47,561.07 40.5,555 C41.53,548.93 42.84,542.03 44.47,535.07 C46.09,528.11 48.17,520.41 50.27,513.25 C52.36,506.09 54.81,498.67 57.06,492.09 C59.3,485.51 61.54,479.16 63.75,473.75 C65.96,468.33 68.04,463.39 70.34,459.61 C72.64,455.83 74.96,452.9 77.55,451.08 C80.14,449.27 83,448.53 85.87,448.71 C88.74,448.88 91.78,449.97 94.78,452.15 C97.79,454.33 100.89,457.64 103.89,461.78 C106.88,465.93 109.87,471.46 112.75,477.01 C115.63,482.55 118.52,489.06 121.15,495.06 C123.78,501.05 126.26,507.11 128.52,512.97 C130.78,518.84 132.93,524.85 134.72,530.24 C136.52,535.63 138.17,541.31 139.3,545.3 C140.43,549.29 141.13,552.72 141.5,554.2" fill="none" stroke="#000" stroke-width="1.6" stroke-linejoin="miter" stroke-linecap="butt"/><path d="M38.5,571.5 C38.92,567.08 39.98,553.92 41,545 C42.02,536.08 43.35,526.22 44.63,517.98 C45.92,509.75 47.15,502.61 48.71,495.61 C50.28,488.61 51.87,482.6 54.02,475.98 C56.18,469.36 58.72,461.87 61.63,455.88 C64.54,449.89 68.03,444.07 71.49,440.05 C74.95,436.04 78.72,433.47 82.4,431.79 C86.08,430.12 89.8,430.11 93.58,430 C97.36,429.89 101.15,430.45 105.08,431.11 C109,431.77 113.19,432.87 117.14,433.95 C121.08,435.03 125.17,436.18 128.75,437.57 C132.33,438.95 135.56,440.34 138.62,442.27 C141.69,444.21 144.41,446.47 147.13,449.15 C149.85,451.83 152.46,455.01 154.96,458.36 C157.46,461.72 159.95,465.47 162.15,469.27 C164.35,473.08 166.3,477.07 168.15,481.19 C170,485.31 171.7,489.7 173.27,494 C174.83,498.3 176.24,502.73 177.55,506.98 C178.85,511.23 180.06,515.62 181.08,519.49 C182.11,523.36 183.03,527.26 183.7,530.2 C184.37,533.14 184.87,535.95 185.1,537.1" fill="none" stroke="#ff0000" stroke-width="1.6" stroke-linejoin="miter" stroke-linecap="butt"/><path d="M38.5,571.5 C38.78,569.52 39.65,563.62 40.2,559.6 C40.75,555.58 41.25,551.63 41.81,547.39 C42.36,543.14 42.89,538.83 43.52,534.13 C44.14,529.42 44.81,524.37 45.57,519.16 C46.33,513.94 47.2,508.02 48.06,502.85 C48.91,497.68 49.75,492.84 50.69,488.13 C51.62,483.41 52.41,479.38 53.67,474.54 C54.93,469.71 56.25,464.88 58.27,459.12 C60.29,453.36 62.87,446.17 65.77,439.98 C68.68,433.8 72.32,427.04 75.69,421.99 C79.06,416.95 82.64,412.71 85.98,409.71 C89.32,406.71 92.48,405.2 95.74,404 C99,402.81 102.12,402.61 105.54,402.52 C108.96,402.43 112.7,402.99 116.28,403.46 C119.86,403.94 123.51,404.68 127.03,405.39 C130.54,406.09 134.03,406.84 137.38,407.71 C140.73,408.58 144.04,409.62 147.14,410.61 C150.24,411.61 153.24,412.66 155.98,413.68 C158.72,414.7 161.1,415.61 163.58,416.74 C166.07,417.87 168.39,418.99 170.88,420.48 C173.37,421.97 176.09,423.83 178.53,425.68 C180.96,427.53 183.39,429.61 185.5,431.57 C187.6,433.53 189.4,435.44 191.14,437.45 C192.88,439.46 194.35,441.37 195.93,443.63 C197.51,445.88 199.03,448.31 200.6,450.99 C202.17,453.68 203.79,456.72 205.34,459.73 C206.88,462.74 208.43,465.96 209.9,469.07 C211.37,472.17 212.84,475.27 214.17,478.35 C215.5,481.43 216.73,484.45 217.89,487.54 C219.06,490.63 220.14,493.84 221.15,496.9 C222.15,499.96 223.06,503.13 223.9,505.9 C224.74,508.67 225.82,512.23 226.2,513.5" fill="none" stroke="#0000ff" stroke-width="1.6" stroke-linejoin="miter" stroke-linecap="butt"/><rect x="34.5" y="567.5" width="8" height="8" fill="#fff" stroke="#333" stroke-width="1"/><rect x="35.4" y="560.2" width="8" height="8" fill="#fff" stroke="#333" stroke-width="1"/><rect x="39.4" y="528.5" width="8" height="8" fill="#fff" stroke="#333" stroke-width="1"/><rect x="44.8" y="511.4" width="8" height="8" fill="#fff" stroke="#333" stroke-width="1"/><rect x="51" y="494.3" width="8" height="8" fill="#fff" stroke="#333" stroke-width="1"/><rect x="57.6" y="477.7" width="8" height="8" fill="#fff" stroke="#333" stroke-width="1"/><rect x="63.8" y="463.3" width="8" height="8" fill="#fff" stroke="#333" stroke-width="1"/><rect x="69.2" y="451.5" width="8" height="8" fill="#fff" stroke="#333" stroke-width="1"/><rect x="75.4" y="444.9" width="8" height="8" fill="#fff" stroke="#333" stroke-width="1"/><rect x="82.5" y="443.7" width="8" height="8" fill="#fff" stroke="#333" stroke-width="1"/><rect x="88.7" y="447.5" width="8" height="8" fill="#fff" stroke="#333" stroke-width="1"/><rect x="95.3" y="454.4" width="8" height="8" fill="#fff" stroke="#333" stroke-width="1"/><rect x="102" y="464.2" width="8" height="8" fill="#fff" stroke="#333" stroke-width="1"/><rect x="108.6" y="475.9" width="8" height="8" fill="#fff" stroke="#333" stroke-width="1"/><rect x="114.9" y="489.9" width="8" height="8" fill="#fff" stroke="#333" stroke-width="1"/><rect x="121.5" y="504.1" width="8" height="8" fill="#fff" stroke="#333" stroke-width="1"/><rect x="127.5" y="518.1" width="8" height="8" fill="#fff" stroke="#333" stroke-width="1"/><rect x="131.9" y="530.9" width="8" height="8" fill="#fff" stroke="#333" stroke-width="1"/><rect x="135.7" y="542.9" width="8" height="8" fill="#fff" stroke="#333" stroke-width="1"/><rect x="137" y="549.8" width="8" height="8" fill="#fff" stroke="#333" stroke-width="1"/><circle cx="38.5" cy="571.5" r="4.4" fill="#fff" stroke="#ff0000" stroke-width="1"/><circle cx="39.4" cy="551.6" r="4.4" fill="#fff" stroke="#ff0000" stroke-width="1"/><circle cx="39.9" cy="538.7" r="4.4" fill="#fff" stroke="#ff0000" stroke-width="1"/><circle cx="41.7" cy="515.4" r="4.4" fill="#fff" stroke="#ff0000" stroke-width="1"/><circle cx="45" cy="492.8" r="4.4" fill="#fff" stroke="#ff0000" stroke-width="1"/><circle cx="52.4" cy="469.3" r="4.4" fill="#fff" stroke="#ff0000" stroke-width="1"/><circle cx="61.6" cy="449.9" r="4.4" fill="#fff" stroke="#ff0000" stroke-width="1"/><circle cx="72.2" cy="436.8" r="4.4" fill="#fff" stroke="#ff0000" stroke-width="1"/><circle cx="81.6" cy="429.5" r="4.4" fill="#fff" stroke="#ff0000" stroke-width="1"/><circle cx="89.8" cy="428.6" r="4.4" fill="#fff" stroke="#ff0000" stroke-width="1"/><circle cx="98.8" cy="430.5" r="4.4" fill="#fff" stroke="#ff0000" stroke-width="1"/><circle cx="108.6" cy="434.2" r="4.4" fill="#fff" stroke="#ff0000" stroke-width="1"/><circle cx="118.2" cy="440.9" r="4.4" fill="#fff" stroke="#ff0000" stroke-width="1"/><circle cx="127.6" cy="451.5" r="4.4" fill="#fff" stroke="#ff0000" stroke-width="1"/><circle cx="137.1" cy="465.8" r="4.4" fill="#fff" stroke="#ff0000" stroke-width="1"/><circle cx="146.6" cy="481.6" r="4.4" fill="#fff" stroke="#ff0000" stroke-width="1"/><circle cx="155.9" cy="498.3" r="4.4" fill="#fff" stroke="#ff0000" stroke-width="1"/><circle cx="165.2" cy="512.9" r="4.4" fill="#fff" stroke="#ff0000" stroke-width="1"/><circle cx="174.2" cy="525.2" r="4.4" fill="#fff" stroke="#ff0000" stroke-width="1"/><circle cx="181.6" cy="536.9" r="4.4" fill="#fff" stroke="#ff0000" stroke-width="1"/><circle cx="186.9" cy="544.2" r="4.4" fill="#fff" stroke="#ff0000" stroke-width="1"/><path d="M38.5,567 L43.6,576 L33.4,576 Z" fill="#fff" stroke="#0000ff" stroke-width="1" stroke-linejoin="miter"/><path d="M40.5,538.6 L45.6,547.6 L35.4,547.6 Z" fill="#fff" stroke="#0000ff" stroke-width="1" stroke-linejoin="miter"/><path d="M41.2,523.1 L46.3,532.1 L36.1,532.1 Z" fill="#fff" stroke="#0000ff" stroke-width="1" stroke-linejoin="miter"/><path d="M42.8,501.6 L47.9,510.6 L37.7,510.6 Z" fill="#fff" stroke="#0000ff" stroke-width="1" stroke-linejoin="miter"/><path d="M49.4,479.2 L54.5,488.2 L44.3,488.2 Z" fill="#fff" stroke="#0000ff" stroke-width="1" stroke-linejoin="miter"/><path d="M60.5,454.2 L65.6,463.2 L55.4,463.2 Z" fill="#fff" stroke="#0000ff" stroke-width="1" stroke-linejoin="miter"/><path d="M72.8,430.7 L77.9,439.7 L67.7,439.7 Z" fill="#fff" stroke="#0000ff" stroke-width="1" stroke-linejoin="miter"/><path d="M85.1,410.2 L90.2,419.2 L80,419.2 Z" fill="#fff" stroke="#0000ff" stroke-width="1" stroke-linejoin="miter"/><path d="M95.7,394.9 L100.8,403.9 L90.6,403.9 Z" fill="#fff" stroke="#0000ff" stroke-width="1" stroke-linejoin="miter"/><path d="M106.9,388.8 L112,397.8 L101.8,397.8 Z" fill="#fff" stroke="#0000ff" stroke-width="1" stroke-linejoin="miter"/><path d="M119.4,390.8 L124.5,399.8 L114.3,399.8 Z" fill="#fff" stroke="#0000ff" stroke-width="1" stroke-linejoin="miter"/><path d="M132.1,399 L137.2,408 L127,408 Z" fill="#fff" stroke="#0000ff" stroke-width="1" stroke-linejoin="miter"/><path d="M143.9,412.2 L149,421.2 L138.8,421.2 Z" fill="#fff" stroke="#0000ff" stroke-width="1" stroke-linejoin="miter"/><path d="M155.9,428.7 L161,437.7 L150.8,437.7 Z" fill="#fff" stroke="#0000ff" stroke-width="1" stroke-linejoin="miter"/><path d="M168.8,445.8 L173.9,454.8 L163.7,454.8 Z" fill="#fff" stroke="#0000ff" stroke-width="1" stroke-linejoin="miter"/><path d="M180.3,461.5 L185.4,470.5 L175.2,470.5 Z" fill="#fff" stroke="#0000ff" stroke-width="1" stroke-linejoin="miter"/><path d="M192.6,476.2 L197.7,485.2 L187.5,485.2 Z" fill="#fff" stroke="#0000ff" stroke-width="1" stroke-linejoin="miter"/><path d="M204.8,488.4 L209.9,497.4 L199.7,497.4 Z" fill="#fff" stroke="#0000ff" stroke-width="1" stroke-linejoin="miter"/><path d="M214.6,498.7 L219.7,507.7 L209.5,507.7 Z" fill="#fff" stroke="#0000ff" stroke-width="1" stroke-linejoin="miter"/><path d="M221.9,507.9 L227,516.9 L216.8,516.9 Z" fill="#fff" stroke="#0000ff" stroke-width="1" stroke-linejoin="miter"/><path d="M227.5,513.3 L232.6,522.3 L222.4,522.3 Z" fill="#fff" stroke="#0000ff" stroke-width="1" stroke-linejoin="miter"/></g><text transform="translate(13.9,458.4) rotate(-90)" font-size="18.6" text-anchor="middle">Stress &#963;,MPa</text><text x="178.6" y="613.8" font-size="18.8" text-anchor="middle">Strain <tspan style="font-family:'Liberation Serif', serif">&#949;</tspan>,<tspan dx="1.5">%</tspan></text><text x="173.5" y="650.2" font-size="20.3" text-anchor="middle" style="font-family:'Liberation Serif', serif">(c) -18 &#176;C</text></g>
<g><line x1="394.5" y1="576.5" x2="394.5" y2="571.9" stroke="#222" stroke-width="1"/><text x="394.5" y="590.4" font-size="11" text-anchor="middle">0</text><line x1="430.5" y1="576.5" x2="430.5" y2="571.9" stroke="#222" stroke-width="1"/><text x="430.06" y="590.4" font-size="11" text-anchor="middle">1</text><line x1="465.5" y1="576.5" x2="465.5" y2="571.9" stroke="#222" stroke-width="1"/><text x="465.62" y="590.4" font-size="11" text-anchor="middle">2</text><line x1="501.5" y1="576.5" x2="501.5" y2="571.9" stroke="#222" stroke-width="1"/><text x="501.19" y="590.4" font-size="11" text-anchor="middle">3</text><line x1="536.5" y1="576.5" x2="536.5" y2="571.9" stroke="#222" stroke-width="1"/><text x="536.75" y="590.4" font-size="11" text-anchor="middle">4</text><line x1="572.5" y1="576.5" x2="572.5" y2="571.9" stroke="#222" stroke-width="1"/><text x="572.31" y="590.4" font-size="11" text-anchor="middle">5</text><line x1="607.5" y1="576.5" x2="607.5" y2="571.9" stroke="#222" stroke-width="1"/><text x="607.88" y="590.4" font-size="11" text-anchor="middle">6</text><line x1="643.5" y1="576.5" x2="643.5" y2="571.9" stroke="#222" stroke-width="1"/><text x="643.44" y="590.4" font-size="11" text-anchor="middle">7</text><line x1="679.5" y1="576.5" x2="679.5" y2="571.9" stroke="#222" stroke-width="1"/><text x="679" y="590.4" font-size="11" text-anchor="middle">8</text><line x1="412.5" y1="576.5" x2="412.5" y2="573.5" stroke="#222" stroke-width="1"/><line x1="447.5" y1="576.5" x2="447.5" y2="573.5" stroke="#222" stroke-width="1"/><line x1="483.5" y1="576.5" x2="483.5" y2="573.5" stroke="#222" stroke-width="1"/><line x1="518.5" y1="576.5" x2="518.5" y2="573.5" stroke="#222" stroke-width="1"/><line x1="554.5" y1="576.5" x2="554.5" y2="573.5" stroke="#222" stroke-width="1"/><line x1="590.5" y1="576.5" x2="590.5" y2="573.5" stroke="#222" stroke-width="1"/><line x1="625.5" y1="576.5" x2="625.5" y2="573.5" stroke="#222" stroke-width="1"/><line x1="661.5" y1="576.5" x2="661.5" y2="573.5" stroke="#222" stroke-width="1"/><line x1="394.5" y1="576.5" x2="399.1" y2="576.5" stroke="#222" stroke-width="1"/><text x="389.2" y="580.44" font-size="11" text-anchor="end">0</text><line x1="394.5" y1="538.5" x2="399.1" y2="538.5" stroke="#222" stroke-width="1"/><text x="389.2" y="542.44" font-size="11" text-anchor="end">5</text><line x1="394.5" y1="500.5" x2="399.1" y2="500.5" stroke="#222" stroke-width="1"/><text x="389.2" y="504.44" font-size="11" text-anchor="end">10</text><line x1="394.5" y1="462.5" x2="399.1" y2="462.5" stroke="#222" stroke-width="1"/><text x="389.2" y="466.44" font-size="11" text-anchor="end">15</text><line x1="394.5" y1="424.5" x2="399.1" y2="424.5" stroke="#222" stroke-width="1"/><text x="389.2" y="428.44" font-size="11" text-anchor="end">20</text><line x1="394.5" y1="386.5" x2="399.1" y2="386.5" stroke="#222" stroke-width="1"/><text x="389.2" y="390.44" font-size="11" text-anchor="end">25</text><line x1="394.5" y1="348.5" x2="399.1" y2="348.5" stroke="#222" stroke-width="1"/><text x="389.2" y="352.44" font-size="11" text-anchor="end">30</text><line x1="394.5" y1="557.5" x2="397.5" y2="557.5" stroke="#222" stroke-width="1"/><line x1="394.5" y1="519.5" x2="397.5" y2="519.5" stroke="#222" stroke-width="1"/><line x1="394.5" y1="481.5" x2="397.5" y2="481.5" stroke="#222" stroke-width="1"/><line x1="394.5" y1="443.5" x2="397.5" y2="443.5" stroke="#222" stroke-width="1"/><line x1="394.5" y1="405.5" x2="397.5" y2="405.5" stroke="#222" stroke-width="1"/><line x1="394.5" y1="367.5" x2="397.5" y2="367.5" stroke="#222" stroke-width="1"/><g clip-path="url(#clipd)"><rect x="563.4" y="353" width="8" height="8" fill="#fff" stroke="#333" stroke-width="1"/><text x="583.9" y="361.05" font-size="11.3"><tspan letter-spacing="0">360</tspan> s<tspan font-size="7.01" dy="-4.52">-1</tspan><tspan dy="4.52"> Experiment</tspan></text><circle cx="567.4" cy="372.7" r="4.4" fill="#fff" stroke="#ff0000" stroke-width="1"/><text x="583.9" y="376.75" font-size="11.3"><tspan letter-spacing="0">500</tspan> s<tspan font-size="7.01" dy="-4.52">-1</tspan><tspan dy="4.52"> Experiment</tspan></text><path d="M567.4,383.7 L572.5,392.7 L562.3,392.7 Z" fill="#fff" stroke="#0000ff" stroke-width="1" stroke-linejoin="miter"/><text x="583.9" y="392.25" font-size="11.3"><tspan letter-spacing="0">600</tspan> s<tspan font-size="7.01" dy="-4.52">-1</tspan><tspan dy="4.52"> Experiment</tspan></text><line x1="554.2" y1="404" x2="580.2" y2="404" stroke="#000" stroke-width="1.3"/><text x="583.9" y="408.05" font-size="11.3"><tspan letter-spacing="0">360</tspan> s<tspan font-size="7.01" dy="-4.52">-1</tspan><tspan dy="4.52"> Model</tspan></text><line x1="554.2" y1="419.7" x2="580.2" y2="419.7" stroke="#ff0000" stroke-width="1.3"/><text x="583.9" y="423.75" font-size="11.3"><tspan letter-spacing="0">500</tspan> s<tspan font-size="7.01" dy="-4.52">-1</tspan><tspan dy="4.52"> Model</tspan></text><line x1="554.2" y1="435.4" x2="580.2" y2="435.4" stroke="#0000ff" stroke-width="1.3"/><text x="583.9" y="439.45" font-size="11.3"><tspan letter-spacing="0">600</tspan> s<tspan font-size="7.01" dy="-4.52">-1</tspan><tspan dy="4.52"> Model</tspan></text></g><rect x="394.5" y="348.5" width="284.5" height="228" fill="none" stroke="#222" stroke-width="1.1"/><g clip-path="url(#dclipd)"><path d="M394.5,576.5 C394.83,574.08 395.71,566.56 396.5,562 C397.29,557.44 398.13,553.5 399.25,549.14 C400.37,544.79 401.58,540.7 403.23,535.88 C404.87,531.07 406.78,525.92 409.11,520.25 C411.45,514.58 414.3,508.03 417.22,501.84 C420.14,495.65 423.48,489.08 426.66,483.1 C429.84,477.13 433.31,471.15 436.29,465.99 C439.27,460.83 442.23,455.88 444.52,452.16 C446.82,448.44 448.6,445.4 450.06,443.65 C451.53,441.91 452.27,441.48 453.32,441.68 C454.36,441.88 455.15,443.36 456.36,444.85 C457.56,446.35 458.97,448.28 460.56,450.64 C462.16,452.99 463.99,455.63 465.92,458.99 C467.85,462.35 469.96,466.27 472.15,470.78 C474.33,475.3 476.75,480.74 479.01,486.07 C481.27,491.4 483.61,497.15 485.71,502.75 C487.8,508.34 489.76,514.01 491.57,519.63 C493.38,525.25 495,530.94 496.56,536.46 C498.12,541.97 499.66,547.83 500.95,552.72 C502.24,557.61 503.54,562.59 504.3,565.8 C505.06,569.01 505.3,570.97 505.5,572" fill="none" stroke="#000" stroke-width="1.6" stroke-linejoin="miter" stroke-linecap="butt"/><path d="M394.5,576.5 C394.83,574.08 395.71,566.56 396.5,562 C397.29,557.44 398.13,553.5 399.25,549.14 C400.37,544.79 401.58,540.7 403.23,535.88 C404.87,531.07 406.78,525.93 409.11,520.25 C411.45,514.57 414.36,507.97 417.25,501.81 C420.14,495.65 423.33,489.19 426.46,483.28 C429.59,477.38 432.86,471.67 436.01,466.38 C439.17,461.1 442.31,456.16 445.39,451.57 C448.47,446.98 451.65,442.5 454.48,438.83 C457.32,435.17 460,432 462.38,429.56 C464.76,427.12 466.86,425.43 468.76,424.21 C470.65,422.99 472.11,422.53 473.76,422.24 C475.4,421.94 476.85,422.13 478.63,422.44 C480.42,422.75 482.38,423.35 484.46,424.1 C486.53,424.84 488.9,425.84 491.11,426.91 C493.31,427.98 495.65,429.32 497.7,430.49 C499.74,431.65 501.67,432.9 503.37,433.9 C505.06,434.9 506.53,435.7 507.86,436.49 C509.19,437.27 510.23,437.86 511.33,438.62 C512.43,439.38 513.41,440.14 514.45,441.04 C515.49,441.95 516.53,442.96 517.59,444.04 C518.64,445.11 519.73,446.27 520.8,447.48 C521.87,448.68 522.94,449.94 524.01,451.27 C525.08,452.59 526.14,453.95 527.23,455.44 C528.32,456.94 529.38,458.41 530.55,460.23 C531.72,462.06 532.94,464.01 534.25,466.38 C535.56,468.74 536.98,471.46 538.4,474.44 C539.81,477.41 541.34,480.77 542.75,484.2 C544.16,487.63 545.54,491.26 546.87,495 C548.21,498.73 549.49,502.61 550.77,506.61 C552.05,510.6 553.3,514.78 554.54,518.97 C555.78,523.17 557.02,527.49 558.2,531.78 C559.37,536.07 560.51,540.44 561.59,544.7 C562.67,548.96 563.75,553.37 564.69,557.35 C565.62,561.34 566.56,565.41 567.2,568.6 C567.84,571.79 568.28,575.18 568.5,576.5" fill="none" stroke="#ff0000" stroke-width="1.6" stroke-linejoin="miter" stroke-linecap="butt"/><path d="M394.5,576.5 C394.83,574.08 395.71,566.56 396.5,562 C397.29,557.44 398.13,553.5 399.25,549.14 C400.37,544.79 401.58,540.7 403.23,535.88 C404.87,531.07 406.78,525.93 409.11,520.25 C411.45,514.57 414.37,507.97 417.25,501.81 C420.14,495.65 423.32,489.2 426.45,483.29 C429.58,477.39 432.85,471.67 436.02,466.38 C439.19,461.09 442.4,456.15 445.47,451.57 C448.53,446.98 451.6,442.66 454.41,438.87 C457.21,435.08 459.76,431.84 462.32,428.83 C464.87,425.82 467.33,423.24 469.72,420.8 C472.11,418.37 474.49,416.11 476.64,414.21 C478.79,412.3 480.74,410.7 482.62,409.37 C484.5,408.03 486.12,407.01 487.92,406.2 C489.72,405.39 491.46,404.81 493.42,404.51 C495.38,404.21 497.42,404.09 499.68,404.38 C501.95,404.66 504.38,405.33 507.03,406.24 C509.68,407.14 512.65,408.43 515.57,409.8 C518.49,411.18 521.68,412.86 524.54,414.5 C527.4,416.14 530.26,417.94 532.75,419.66 C535.24,421.37 537.47,423.13 539.48,424.81 C541.49,426.49 543.23,428.15 544.81,429.76 C546.38,431.37 547.67,432.88 548.94,434.48 C550.22,436.08 551.25,437.57 552.45,439.35 C553.66,441.14 554.82,443.02 556.15,445.18 C557.49,447.33 559.01,449.77 560.47,452.31 C561.92,454.85 563.48,457.65 564.88,460.43 C566.28,463.21 567.58,466.06 568.86,469 C570.14,471.94 571.38,475.04 572.56,478.08 C573.75,481.12 574.96,484.31 576,487.26 C577.04,490.2 577.97,493.02 578.78,495.75 C579.6,498.49 580.19,500.86 580.89,503.67 C581.59,506.48 582.19,509.29 582.97,512.62 C583.75,515.94 584.64,519.72 585.57,523.6 C586.5,527.48 587.57,531.86 588.55,535.92 C589.54,539.98 590.59,544.28 591.47,547.93 C592.35,551.58 593.18,555.07 593.82,557.82 C594.46,560.56 594.97,562.79 595.3,564.4 C595.63,566.01 595.72,566.98 595.8,567.5" fill="none" stroke="#0000ff" stroke-width="1.8" stroke-linejoin="miter" stroke-linecap="butt"/><rect x="390.6" y="572.4" width="8" height="8" fill="#fff" stroke="#333" stroke-width="1"/><rect x="396.3" y="524.2" width="8" height="8" fill="#fff" stroke="#333" stroke-width="1"/><rect x="404.4" y="504.5" width="8" height="8" fill="#fff" stroke="#333" stroke-width="1"/><rect x="413.5" y="483.4" width="8" height="8" fill="#fff" stroke="#333" stroke-width="1"/><rect x="421.6" y="464.5" width="8" height="8" fill="#fff" stroke="#333" stroke-width="1"/><rect x="429.4" y="451" width="8" height="8" fill="#fff" stroke="#333" stroke-width="1"/><rect x="436.4" y="443.1" width="8" height="8" fill="#fff" stroke="#333" stroke-width="1"/><rect x="452.6" y="451.3" width="8" height="8" fill="#fff" stroke="#333" stroke-width="1"/><rect x="460.3" y="465.5" width="8" height="8" fill="#fff" stroke="#333" stroke-width="1"/><rect x="468.4" y="485" width="8" height="8" fill="#fff" stroke="#333" stroke-width="1"/><rect x="476.8" y="507.3" width="8" height="8" fill="#fff" stroke="#333" stroke-width="1"/><rect x="484.2" y="530.5" width="8" height="8" fill="#fff" stroke="#333" stroke-width="1"/><rect x="491.4" y="551" width="8" height="8" fill="#fff" stroke="#333" stroke-width="1"/><rect x="499.5" y="566.2" width="8" height="8" fill="#fff" stroke="#333" stroke-width="1"/><circle cx="394.6" cy="576.4" r="4.4" fill="#fff" stroke="#ff0000" stroke-width="1"/><circle cx="395" cy="567.7" r="4.4" fill="#fff" stroke="#ff0000" stroke-width="1"/><circle cx="398.7" cy="545.9" r="4.4" fill="#fff" stroke="#ff0000" stroke-width="1"/><circle cx="406.1" cy="527.5" r="4.4" fill="#fff" stroke="#ff0000" stroke-width="1"/><circle cx="417.5" cy="503.4" r="4.4" fill="#fff" stroke="#ff0000" stroke-width="1"/><circle cx="430.2" cy="477.7" r="4.4" fill="#fff" stroke="#ff0000" stroke-width="1"/><circle cx="441.1" cy="454" r="4.4" fill="#fff" stroke="#ff0000" stroke-width="1"/><circle cx="450.4" cy="436.7" r="4.4" fill="#fff" stroke="#ff0000" stroke-width="1"/><circle cx="461" cy="428.5" r="4.4" fill="#fff" stroke="#ff0000" stroke-width="1"/><circle cx="472.2" cy="427.2" r="4.4" fill="#fff" stroke="#ff0000" stroke-width="1"/><circle cx="483.4" cy="431" r="4.4" fill="#fff" stroke="#ff0000" stroke-width="1"/><circle cx="494.5" cy="440.4" r="4.4" fill="#fff" stroke="#ff0000" stroke-width="1"/><circle cx="506.9" cy="454.5" r="4.4" fill="#fff" stroke="#ff0000" stroke-width="1"/><circle cx="518.9" cy="474.9" r="4.4" fill="#fff" stroke="#ff0000" stroke-width="1"/><circle cx="530.3" cy="499.9" r="4.4" fill="#fff" stroke="#ff0000" stroke-width="1"/><circle cx="541.7" cy="525.8" r="4.4" fill="#fff" stroke="#ff0000" stroke-width="1"/><circle cx="552.6" cy="548.9" r="4.4" fill="#fff" stroke="#ff0000" stroke-width="1"/><circle cx="561.1" cy="566.3" r="4.4" fill="#fff" stroke="#ff0000" stroke-width="1"/><path d="M394.6,571.9 L399.7,580.9 L389.5,580.9 Z" fill="#fff" stroke="#0000ff" stroke-width="1" stroke-linejoin="miter"/><path d="M395.7,558.1 L400.8,567.1 L390.6,567.1 Z" fill="#fff" stroke="#0000ff" stroke-width="1" stroke-linejoin="miter"/><path d="M396.9,549.4 L402,558.4 L391.8,558.4 Z" fill="#fff" stroke="#0000ff" stroke-width="1" stroke-linejoin="miter"/><path d="M400.3,533.8 L405.4,542.8 L395.2,542.8 Z" fill="#fff" stroke="#0000ff" stroke-width="1" stroke-linejoin="miter"/><path d="M408.4,516.1 L413.5,525.1 L403.3,525.1 Z" fill="#fff" stroke="#0000ff" stroke-width="1" stroke-linejoin="miter"/><path d="M419.8,492 L424.9,501 L414.7,501 Z" fill="#fff" stroke="#0000ff" stroke-width="1" stroke-linejoin="miter"/><path d="M435.5,465.3 L440.6,474.3 L430.4,474.3 Z" fill="#fff" stroke="#0000ff" stroke-width="1" stroke-linejoin="miter"/><path d="M449.4,441.3 L454.5,450.3 L444.3,450.3 Z" fill="#fff" stroke="#0000ff" stroke-width="1" stroke-linejoin="miter"/><path d="M461,421.5 L466.1,430.5 L455.9,430.5 Z" fill="#fff" stroke="#0000ff" stroke-width="1" stroke-linejoin="miter"/><path d="M472.2,409.1 L477.3,418.1 L467.1,418.1 Z" fill="#fff" stroke="#0000ff" stroke-width="1" stroke-linejoin="miter"/><path d="M485.1,404.1 L490.2,413.1 L480,413.1 Z" fill="#fff" stroke="#0000ff" stroke-width="1" stroke-linejoin="miter"/><path d="M499,403.6 L504.1,412.6 L493.9,412.6 Z" fill="#fff" stroke="#0000ff" stroke-width="1" stroke-linejoin="miter"/><path d="M511.4,410.3 L516.5,419.3 L506.3,419.3 Z" fill="#fff" stroke="#0000ff" stroke-width="1" stroke-linejoin="miter"/><path d="M524.3,424.5 L529.4,433.5 L519.2,433.5 Z" fill="#fff" stroke="#0000ff" stroke-width="1" stroke-linejoin="miter"/><path d="M537.2,445.8 L542.3,454.8 L532.1,454.8 Z" fill="#fff" stroke="#0000ff" stroke-width="1" stroke-linejoin="miter"/><path d="M550.5,473.7 L555.6,482.7 L545.4,482.7 Z" fill="#fff" stroke="#0000ff" stroke-width="1" stroke-linejoin="miter"/><path d="M562.4,502.9 L567.5,511.9 L557.3,511.9 Z" fill="#fff" stroke="#0000ff" stroke-width="1" stroke-linejoin="miter"/><path d="M574.4,528.1 L579.5,537.1 L569.3,537.1 Z" fill="#fff" stroke="#0000ff" stroke-width="1" stroke-linejoin="miter"/><path d="M584.8,547.5 L589.9,556.5 L579.7,556.5 Z" fill="#fff" stroke="#0000ff" stroke-width="1" stroke-linejoin="miter"/><path d="M591.4,561.4 L596.5,570.4 L586.3,570.4 Z" fill="#fff" stroke="#0000ff" stroke-width="1" stroke-linejoin="miter"/><path d="M596.1,564.2 L601.2,573.2 L591,573.2 Z" fill="#fff" stroke="#0000ff" stroke-width="1" stroke-linejoin="miter"/></g><text transform="translate(369.9,461.7) rotate(-90)" font-size="19.2" text-anchor="middle">Stress &#963;,MPa</text><text x="537" y="618.9" font-size="19" text-anchor="middle">Strain <tspan style="font-family:'Liberation Serif', serif">&#949;</tspan>,<tspan dx="1.5">%</tspan></text><text x="533.3" y="649.3" font-size="20.3" text-anchor="middle" style="font-family:'Liberation Serif', serif">(d) -28 &#176;C</text></g>
</svg>
</body></html>
